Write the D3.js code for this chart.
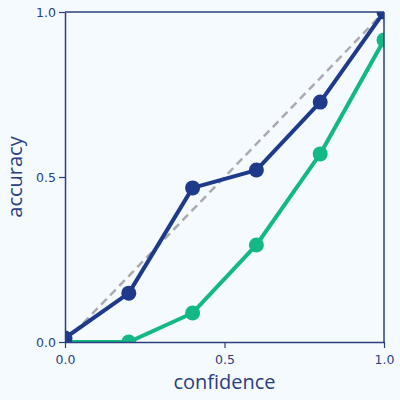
<!DOCTYPE html>
<html>
<head>
<meta charset="utf-8">
<script src="https://cdn.jsdelivr.net/npm/d3@7"></script>
<style>
  html, body { margin: 0; padding: 0; background: #f5faff; }
  svg { display: block; }
</style>
</head>
<body>
<script>
// chart data
var confidence = [0.0, 0.2, 0.4, 0.6, 0.8, 1.0];
var accuracy_blue = [0.012, 0.148, 0.467, 0.521, 0.727, 1.0];
var accuracy_green = [0.0, 0.0, 0.088, 0.294, 0.570, 0.915];
var ticks = [0.0, 0.5, 1.0];

var width = 400,
    height = 400;
var margin = {top: 12, right: 16, bottom: 58, left: 65};
var AXIS = "#2b3f7f";
var BLUE = "#1f3a8a";
var GREEN = "#13b886";

var svg = d3.select("body").append("svg")
    .attr("width", width)
    .attr("height", height);

svg.append("rect")
    .attr("width", width)
    .attr("height", height)
    .attr("fill", "#f5faff");

var x = d3.scaleLinear().domain([0, 1]).range([margin.left, width - margin.right]);
var y = d3.scaleLinear().domain([0, 1]).range([height - margin.bottom, margin.top]);

svg.append("clipPath")
    .attr("id", "clip")
  .append("rect")
    .attr("x", x(0))
    .attr("y", y(1))
    .attr("width", x(1) - x(0))
    .attr("height", y(0) - y(1));

var plot = svg.append("g").attr("clip-path", "url(#clip)");

// perfect calibration line
plot.append("line")
    .attr("x1", x(0)).attr("y1", y(0))
    .attr("x2", x(1)).attr("y2", y(1))
    .attr("stroke", "#a9abb0")
    .attr("stroke-width", 2.5)
    .attr("stroke-dasharray", "8,5");

var line = d3.line()
    .x(function(d) { return x(d[0]); })
    .y(function(d) { return y(d[1]); });

function draw_series(values, colour) {
    var pts = d3.zip(confidence, values);
    plot.append("path")
        .datum(pts)
        .attr("fill", "none")
        .attr("stroke", colour)
        .attr("stroke-width", 4)
        .attr("stroke-linejoin", "round")
        .attr("d", line);
    plot.selectAll(null)
        .data(pts)
        .enter().append("circle")
        .attr("cx", function(d) { return x(d[0]); })
        .attr("cy", function(d) { return y(d[1]); })
        .attr("r", 7.5)
        .attr("fill", colour);
}

draw_series(accuracy_green, GREEN);
draw_series(accuracy_blue, BLUE);

// axes
var xAxis = svg.append("g")
    .attr("transform", "translate(0," + y(0) + ")")
    .call(d3.axisBottom(x).tickValues(ticks).tickFormat(d3.format(".1f")).tickSize(6).tickSizeOuter(0));
var yAxis = svg.append("g")
    .attr("transform", "translate(" + x(0) + ",0)")
    .call(d3.axisLeft(y).tickValues(ticks).tickFormat(d3.format(".1f")).tickSize(6).tickSizeOuter(0));

[xAxis, yAxis].forEach(function(a) {
    a.select(".domain").attr("stroke", AXIS).attr("stroke-width", 1.5);
    a.selectAll(".tick line").attr("stroke", AXIS).attr("stroke-width", 1.2);
    a.selectAll(".tick text")
        .attr("fill", AXIS)
        .style("font-family", "DejaVu Sans")
        .style("font-size", "12.5px");
});
xAxis.selectAll(".tick text").attr("dy", "1.05em");

// top and right frame
svg.append("line")
    .attr("x1", x(0)).attr("x2", x(1)).attr("y1", y(1)).attr("y2", y(1))
    .attr("stroke", AXIS).attr("stroke-width", 1.5);
svg.append("line")
    .attr("x1", x(1)).attr("x2", x(1)).attr("y1", y(0)).attr("y2", y(1))
    .attr("stroke", AXIS).attr("stroke-width", 1.5);

// axis labels
svg.append("text")
    .attr("x", (x(0) + x(1)) / 2)
    .attr("y", 389)
    .attr("text-anchor", "middle")
    .attr("fill", AXIS)
    .style("font-family", "Open Sans")
    .style("font-size", "20px")
    .text("confidence");

svg.append("text")
    .attr("transform", "translate(22," + (y(0) + y(1)) / 2 + ") rotate(-90)")
    .attr("text-anchor", "middle")
    .attr("fill", AXIS)
    .style("font-family", "Open Sans")
    .style("font-size", "20px")
    .text("accuracy");
</script>
</body>
</html>
